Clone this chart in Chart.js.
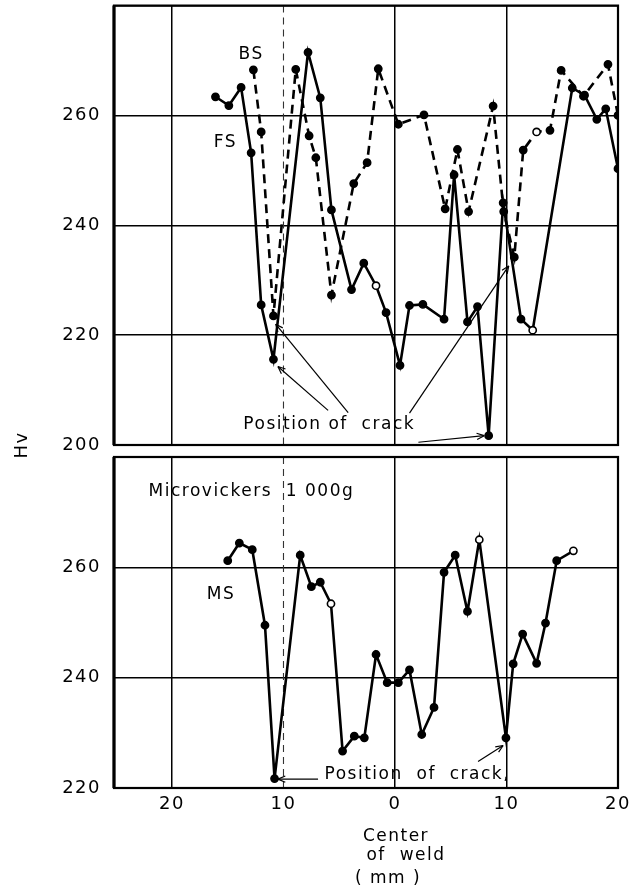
<!DOCTYPE html>
<html><head><meta charset="utf-8">
<script src="https://cdn.jsdelivr.net/npm/chart.js@4.4.0/dist/chart.umd.min.js"></script>
<style>
html,body{margin:0;padding:0;background:#fff;}
#wrap{position:relative;width:644px;height:892px;overflow:hidden;}
.box{position:absolute;left:0;width:644px;}
</style></head><body>
<div id="wrap">
<div class="box" style="top:0;height:462px"><canvas id="topChart"></canvas></div>
<div class="box" style="top:450px;height:442px"><canvas id="botChart"></canvas></div>
</div>
<script>
// ---------- data ----------
const xTicks = [-20, -10, 0, 10, 20];
const yTicksTop = [200, 220, 240, 260, 280];
const yTicksBot = [220, 240, 260, 280];

const fsX = [-16.1, -14.9, -13.8, -12.9, -12.0, -10.9, -7.8, -6.7, -5.7, -3.9, -2.8, -1.7, -0.8, 0.45, 1.3, 2.5, 4.4, 5.3, 6.5, 7.4, 8.4, 9.7, 11.3, 12.35, 15.9, 17.0, 18.1, 18.9, 20.0];
const fsY = [263.4, 261.8, 265.1, 253.2, 225.5, 215.6, 271.5, 263.2, 242.8, 228.3, 233.1, 229.0, 224.1, 214.5, 225.4, 225.6, 222.9, 249.2, 222.4, 225.2, 201.7, 244.1, 222.9, 220.9, 265.0, 263.7, 259.3, 261.2, 250.3];

const bsX = [-12.7, -12.0, -10.9, -8.9, -7.7, -7.1, -5.7, -3.7, -2.5, -1.5, 0.3, 2.6, 4.5, 5.6, 6.6, 8.8, 9.75, 10.7, 11.5, 12.7, 13.9, 14.9, 16.9, 19.1, 20.0];
const bsY = [268.3, 257.0, 223.5, 268.4, 256.3, 252.3, 227.3, 247.6, 251.4, 268.5, 258.4, 260.1, 243.0, 253.8, 242.5, 261.7, 242.5, 234.2, 253.7, 257.0, 257.3, 268.2, 263.5, 269.3, 260.0];

const msX = [-15.0, -13.96, -12.8, -11.66, -10.8, -8.5, -7.5, -6.7, -5.74, -4.7, -3.65, -2.75, -1.7, -0.7, 0.3, 1.3, 2.4, 3.5, 4.4, 5.4, 6.5, 7.56, 9.95, 10.6, 11.45, 12.7, 13.5, 14.5, 16.0];
const msY = [261.2, 264.4, 263.2, 249.5, 221.7, 262.2, 256.5, 257.3, 253.4, 226.7, 229.4, 229.1, 244.2, 239.1, 239.1, 241.4, 229.7, 234.6, 259.1, 262.2, 252.0, 265.0, 229.1, 242.5, 247.9, 242.6, 249.9, 261.2, 263.0];

// hollow markers (indices)
const fsHollow = [11, 23];
const bsHollow = [19];
const msHollow = [8, 21, 28];

// ---------- styling / annotations ----------
const FONT = 'DejaVu Sans';
Chart.defaults.font.family = FONT;
Chart.defaults.font.size = 18;
Chart.defaults.color = '#000';

const topNotes = [
  {text: 'BS', x: -12.9, y: 271.1, align: 'center'},
  {text: 'FS', x: -15.2, y: 255.1, align: 'center'},
  {text: 'Position of  crack', x: -5.9, y: 203.7, align: 'center'}
];
const topArrows = [
  {x1: -4.2, y1: 205.9, x2: -10.7, y2: 222.0},
  {x1: -6.0, y1: 206.3, x2: -10.5, y2: 214.3},
  {x1: 1.3, y1: 205.8, x2: 10.2, y2: 232.6},
  {x1: 2.1, y1: 200.5, x2: 8.0, y2: 201.7}
];
const botNotes = [
  {text: 'Microvickers  1 000g', x: -22.1, y: 273.8, align: 'left'},
  {text: 'MS', x: -15.6, y: 255.0, align: 'center'},
  {text: 'Position  of  crack,', x: 2.0, y: 222.4, align: 'center'}
];
const botArrows = [
  {x1: -6.9, y1: 221.6, x2: -10.5, y2: 221.6},
  {x1: 7.45, y1: 224.8, x2: 9.7, y2: 227.7}
];

function pts(xs, ys) { return xs.map((x, i) => ({x: x, y: ys[i]})); }
function fills(n, hollow) { const a = []; for (let i = 0; i < n; i++) a.push(hollow.includes(i) ? '#fff' : '#000'); return a; }

function ds(label, xs, ys, hollow, dash) {
  return {
    label: label,
    data: pts(xs, ys),
    borderColor: '#000',
    borderWidth: 2.6,
    borderDash: dash,
    pointRadius: 3.6,
    pointBorderWidth: 1.6,
    pointBorderColor: '#000',
    pointBackgroundColor: fills(xs.length, hollow),
    tension: 0,
    fill: false
  };
}

function drawArrow(ctx, x1, y1, x2, y2, head) {
  ctx.beginPath(); ctx.moveTo(x1, y1); ctx.lineTo(x2, y2); ctx.stroke();
  const a = Math.atan2(y2 - y1, x2 - x1);
  ctx.beginPath();
  ctx.moveTo(x2, y2);
  ctx.lineTo(x2 - head * Math.cos(a - 0.4), y2 - head * Math.sin(a - 0.4));
  ctx.moveTo(x2, y2);
  ctx.lineTo(x2 - head * Math.cos(a + 0.4), y2 - head * Math.sin(a + 0.4));
  ctx.stroke();
}

function makePlugin(notes, arrows, extra) {
  return {
    id: 'deco',
    beforeDraw(chart) { chart.ctx.letterSpacing = '1.5px'; },
    beforeDatasetsDraw(chart) {
      const ctx = chart.ctx, xs = chart.scales.x, ca = chart.chartArea;
      ctx.save();
      ctx.strokeStyle = '#333'; ctx.lineWidth = 1.1; ctx.setLineDash([7, 5]);
      const px = xs.getPixelForValue(-10);
      ctx.beginPath(); ctx.moveTo(px, ca.top); ctx.lineTo(px, ca.bottom); ctx.stroke();
      ctx.restore();
    },
    afterDatasetsDraw(chart) {
      const ctx = chart.ctx, xs = chart.scales.x, ys = chart.scales.y, ca = chart.chartArea;
      ctx.save();
      ctx.strokeStyle = '#000'; ctx.lineWidth = 2.2; ctx.setLineDash([]);
      ctx.strokeRect(ca.left, ca.top, ca.right - ca.left, ca.bottom - ca.top);
      ctx.lineWidth = 3.2;
      ctx.beginPath(); ctx.moveTo(ca.left, ca.top); ctx.lineTo(ca.left, ca.bottom); ctx.stroke();
      ctx.lineWidth = 1.2;
      arrows.forEach(a => drawArrow(ctx, xs.getPixelForValue(a.x1), ys.getPixelForValue(a.y1), xs.getPixelForValue(a.x2), ys.getPixelForValue(a.y2), 8));
      ctx.fillStyle = '#000';
      ctx.font = '17px "' + FONT + '"';
      ctx.letterSpacing = '1.5px';
      ctx.textBaseline = 'middle';
      notes.forEach(n => {
        ctx.textAlign = n.align;
        ctx.fillText(n.text, xs.getPixelForValue(n.x), ys.getPixelForValue(n.y));
      });
      if (extra) extra(chart, ctx);
      ctx.restore();
    }
  };
}

function scales(yMin, yMax, yTicks, showX, xHeight) {
  return {
    x: {
      type: 'linear', min: -25.2, max: 20,
      afterBuildTicks: s => { s.ticks = xTicks.map(v => ({value: v})); },
      afterFit: s => { s.height = xHeight; s.paddingLeft = 0; s.paddingRight = 0; s.paddingTop = 0; s.paddingBottom = 0; },
      grid: {
        color: c => (c.tick && c.tick.value === -10) ? 'rgba(0,0,0,0)' : '#000',
        lineWidth: 1.5, drawTicks: false
      },
      border: {display: false},
      ticks: {display: showX, padding: 6, font: {size: 18}, callback: v => String(Math.abs(v))}
    },
    y: {
      type: 'linear', min: yMin, max: yMax,
      afterBuildTicks: s => { s.ticks = yTicks.map(v => ({value: v})); },
      afterFit: s => { s.width = 114; s.paddingTop = 0; s.paddingBottom = 0; s.paddingLeft = 0; s.paddingRight = 0; },
      grid: {color: '#000', lineWidth: 1.5, drawTicks: false},
      border: {display: false},
      ticks: {padding: 13, font: {size: 18}, callback: v => (v === 280 ? '' : String(v))}
    }
  };
}

const baseOpts = {
  responsive: true, maintainAspectRatio: false, animation: false,
  plugins: {legend: {display: false}, tooltip: {enabled: false}}
};

new Chart(document.getElementById('topChart'), {
  type: 'line',
  data: {datasets: [ds('FS', fsX, fsY, fsHollow, []), ds('BS', bsX, bsY, bsHollow, [9, 6])]},
  options: Object.assign({}, baseOpts, {
    layout: {padding: {top: 5, right: 26, bottom: 17, left: 0}},
    scales: scales(200, 280, yTicksTop, false, 0)
  }),
  plugins: [makePlugin(topNotes, topArrows, (chart, ctx) => {
    ctx.save();
    ctx.translate(22, 445);
    ctx.rotate(-Math.PI / 2);
    ctx.textAlign = 'center'; ctx.textBaseline = 'middle';
    ctx.font = '18px "' + FONT + '"';
    ctx.fillText('Hv', 0, 0);
    ctx.restore();
  })]
});

new Chart(document.getElementById('botChart'), {
  type: 'line',
  data: {datasets: [ds('MS', msX, msY, msHollow, [])]},
  options: Object.assign({}, baseOpts, {
    layout: {padding: {top: 7, right: 26, bottom: 0, left: 0}},
    scales: scales(220, 280, yTicksBot, true, 104)
  }),
  plugins: [makePlugin(botNotes, botArrows, (chart, ctx) => {
    ctx.textAlign = 'center'; ctx.textBaseline = 'middle';
    ctx.font = '17px "' + FONT + '"';
    ctx.fillText('Center', 396, 387);
    ctx.fillText('of  weld', 406, 406);
    ctx.fillText('( mm )', 388, 429);
  })]
});
</script>
</body></html>
